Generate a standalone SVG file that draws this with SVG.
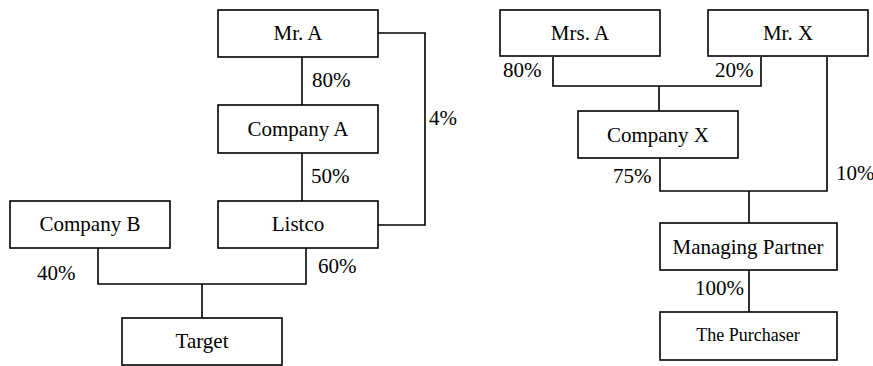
<svg xmlns="http://www.w3.org/2000/svg" width="873" height="366" viewBox="0 0 873 366">
<style>
rect{fill:#fff;stroke:#000;stroke-width:1.6}
.c path{fill:none;stroke:#000;stroke-width:1.6}
text{font-family:"Liberation Serif","Times New Roman",serif;font-size:21px;fill:#000}
.n{text-anchor:middle}
.s{font-size:18px}
</style>
<rect x="0" y="0" width="873" height="366" style="stroke:none"/>
<g class="c" id="connectors">
<path d="M302 57V105"/>
<path d="M302 153V201"/>
<path d="M378 33H425V225H378"/>
<path d="M98 248V284H306V248"/>
<path d="M202 284V318"/>
<path d="M553 57V86H761V57"/>
<path d="M659 86V111"/>
<path d="M660 158V191H827V57"/>
<path d="M749 191V223"/>
<path d="M749 270V312"/>
<text x="312" y="87">80%</text>
<text x="311" y="183">50%</text>
<text x="429" y="125">4%</text>
<text x="37" y="280">40%</text>
<text x="318" y="273">60%</text>
<text x="503" y="77">80%</text>
<text x="715" y="77">20%</text>
<text x="613" y="183">75%</text>
<text x="836" y="180">10%</text>
<text x="695" y="295">100%</text>
</g>
<g id="mrA"><rect x="218" y="10" width="160" height="47"/><text class="n" x="298" y="40">Mr. A</text></g>
<g id="companyA"><rect x="218" y="105" width="160" height="48"/><text class="n" x="298" y="136">Company A</text></g>
<g id="listco"><rect x="218" y="201" width="160" height="47"/><text class="n" x="298" y="231">Listco</text></g>
<g id="companyB"><rect x="10" y="201" width="160" height="47"/><text class="n" x="90" y="231">Company B</text></g>
<g id="target"><rect x="122" y="318" width="160" height="47"/><text class="n" x="202" y="348">Target</text></g>
<g id="mrsA"><rect x="500" y="10" width="160" height="46"/><text class="n" x="580" y="40">Mrs. A</text></g>
<g id="mrX"><rect x="708" y="10" width="160" height="46"/><text class="n" x="788" y="40">Mr. X</text></g>
<g id="companyX"><rect x="578" y="111" width="160" height="47"/><text class="n" x="658" y="142">Company X</text></g>
<g id="managingPartner"><rect x="660" y="223" width="177" height="47"/><text class="n" x="748" y="254">Managing Partner</text></g>
<g id="purchaser"><rect x="660" y="312" width="177" height="48"/><text class="n s" x="748" y="341">The Purchaser</text></g>
</svg>
